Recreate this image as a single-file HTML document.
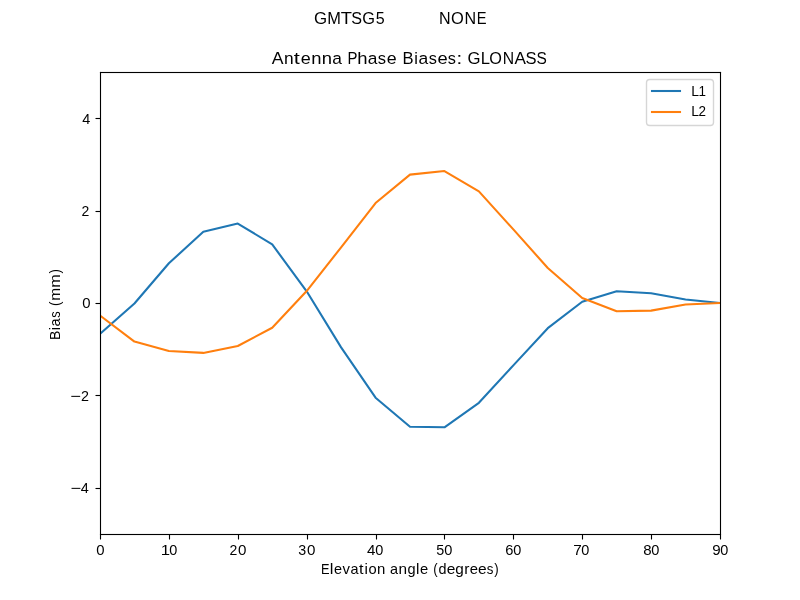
<!DOCTYPE html>
<html lang="en">
<head>
<meta charset="utf-8">
<title>Antenna Phase Biases: GLONASS</title>
<style>
html,body{margin:0;padding:0;background:#ffffff;}
body{width:800px;height:600px;overflow:hidden;}
svg{display:block;}
text{font-family:"Liberation Sans",sans-serif;fill:#000000;}
.sp{stroke:#000000;stroke-width:1.11;fill:none;}
.ln{fill:none;stroke-width:2.083;stroke-linejoin:round;stroke-linecap:square;}
</style>
</head>
<body>
<svg width="800" height="600" viewBox="0 0 800 600">
<rect x="0" y="0" width="800" height="600" fill="#ffffff"/>
<defs><clipPath id="axclip"><rect x="100" y="72" width="620" height="462"/></clipPath></defs>
<g clip-path="url(#axclip)">
<polyline class="ln" stroke="#1f77b4" points="100.00,333.95 134.44,303.46 168.89,263.27 203.33,231.85 237.78,223.54 272.22,244.42 306.67,291.31 341.11,347.35 375.56,397.71 410.00,426.82 444.44,427.28 478.89,402.79 513.33,365.37 547.78,328.18 582.22,301.71 616.67,291.22 651.11,293.30 685.56,299.49 720.00,303.00"/>
<polyline class="ln" stroke="#ff7f0e" points="100.00,315.47 134.44,341.58 168.89,351.05 203.33,352.90 237.78,345.97 272.22,327.72 306.67,291.08 341.11,247.33 375.56,203.07 410.00,174.66 444.44,171.05 478.89,191.33 513.33,229.40 547.78,267.98 582.22,297.92 616.67,311.32 651.11,310.62 685.56,304.48 720.00,303.00"/>
</g>
<g class="sp">
<line x1="100.5" y1="534.5" x2="100.5" y2="539.5"/>
<line x1="169.5" y1="534.5" x2="169.5" y2="539.5"/>
<line x1="238.5" y1="534.5" x2="238.5" y2="539.5"/>
<line x1="307.5" y1="534.5" x2="307.5" y2="539.5"/>
<line x1="376.5" y1="534.5" x2="376.5" y2="539.5"/>
<line x1="444.5" y1="534.5" x2="444.5" y2="539.5"/>
<line x1="513.5" y1="534.5" x2="513.5" y2="539.5"/>
<line x1="582.5" y1="534.5" x2="582.5" y2="539.5"/>
<line x1="651.5" y1="534.5" x2="651.5" y2="539.5"/>
<line x1="720.5" y1="534.5" x2="720.5" y2="539.5"/>
<line x1="95.5" y1="118.5" x2="100.5" y2="118.5"/>
<line x1="95.5" y1="211.5" x2="100.5" y2="211.5"/>
<line x1="95.5" y1="303.5" x2="100.5" y2="303.5"/>
<line x1="95.5" y1="395.5" x2="100.5" y2="395.5"/>
<line x1="95.5" y1="488.5" x2="100.5" y2="488.5"/>
</g>
<g fill="#000000">
<rect x="99.945" y="71.945" width="1.11" height="463.11"/>
<rect x="719.945" y="71.945" width="1.11" height="463.11"/>
<rect x="99.945" y="71.945" width="621.11" height="1.11"/>
<rect x="99.945" y="533.945" width="621.11" height="1.11"/>
</g>
<rect x="646.5" y="79.5" width="67" height="46" rx="3.2" ry="3.2" fill="#ffffff" fill-opacity="0.8" stroke="#cccccc" stroke-opacity="0.8" stroke-width="1.39"/>
<line class="ln" stroke="#1f77b4" x1="652" y1="91" x2="680" y2="91"/>
<line class="ln" stroke="#ff7f0e" x1="652" y1="112" x2="680" y2="112"/>
<g opacity="0.999" style="filter:grayscale(1)">
<text id="g_sup"><tspan id="sup1_0" x="314.00" y="24.00" font-size="17.40" textLength="13.12" lengthAdjust="spacingAndGlyphs">G</tspan><tspan id="sup1_1" x="327.22" y="24.00" font-size="17.40" textLength="13.67" lengthAdjust="spacingAndGlyphs">M</tspan><tspan id="sup1_2" x="340.88" y="24.00" font-size="17.40" textLength="11.21" lengthAdjust="spacingAndGlyphs">T</tspan><tspan id="sup1_3" x="351.33" y="24.00" font-size="17.40" textLength="10.78" lengthAdjust="spacingAndGlyphs">S</tspan><tspan id="sup1_4" x="362.22" y="24.00" font-size="17.40" textLength="12.74" lengthAdjust="spacingAndGlyphs">G</tspan><tspan id="sup1_5" x="375.70" y="24.00" font-size="17.40" textLength="8.93" lengthAdjust="spacingAndGlyphs">5</tspan> <tspan id="sup2_0" x="439.00" y="24.00" font-size="17.40" textLength="11.61" lengthAdjust="spacingAndGlyphs">N</tspan><tspan id="sup2_1" x="451.09" y="24.00" font-size="17.40" textLength="12.80" lengthAdjust="spacingAndGlyphs">O</tspan><tspan id="sup2_2" x="464.38" y="24.00" font-size="17.40" textLength="11.62" lengthAdjust="spacingAndGlyphs">N</tspan><tspan id="sup2_3" x="476.73" y="24.00" font-size="17.40" textLength="9.81" lengthAdjust="spacingAndGlyphs">E</tspan></text>
<text id="g_title"><tspan id="ti1_0" x="271.74" y="63.60" font-size="17.40" textLength="11.76" lengthAdjust="spacingAndGlyphs">A</tspan><tspan id="ti1_1" x="284.10" y="63.60" font-size="17.40" textLength="9.63" lengthAdjust="spacingAndGlyphs">n</tspan><tspan id="ti1_2" x="293.71" y="63.60" font-size="17.40" textLength="6.07" lengthAdjust="spacingAndGlyphs">t</tspan><tspan id="ti1_3" x="300.76" y="63.60" font-size="17.40" textLength="10.00" lengthAdjust="spacingAndGlyphs">e</tspan><tspan id="ti1_4" x="311.38" y="63.60" font-size="17.40" textLength="10.25" lengthAdjust="spacingAndGlyphs">n</tspan><tspan id="ti1_5" x="321.75" y="63.60" font-size="17.40" textLength="10.25" lengthAdjust="spacingAndGlyphs">n</tspan><tspan id="ti1_6" x="332.24" y="63.60" font-size="17.40" textLength="9.65" lengthAdjust="spacingAndGlyphs">a</tspan> <tspan id="ti2_0" x="347.40" y="63.60" font-size="17.40" textLength="9.97" lengthAdjust="spacingAndGlyphs">P</tspan><tspan id="ti2_1" x="357.35" y="63.60" font-size="17.40" textLength="10.27" lengthAdjust="spacingAndGlyphs">h</tspan><tspan id="ti2_2" x="367.85" y="63.60" font-size="17.40" textLength="9.64" lengthAdjust="spacingAndGlyphs">a</tspan><tspan id="ti2_3" x="377.86" y="63.60" font-size="17.40" textLength="8.28" lengthAdjust="spacingAndGlyphs">s</tspan><tspan id="ti2_4" x="386.88" y="63.60" font-size="17.40" textLength="9.90" lengthAdjust="spacingAndGlyphs">e</tspan> <tspan id="ti3_0" x="402.50" y="63.60" font-size="17.40" textLength="11.06" lengthAdjust="spacingAndGlyphs">B</tspan><tspan id="ti3_1" x="414.29" y="63.60" font-size="17.40" textLength="3.65" lengthAdjust="spacingAndGlyphs">i</tspan><tspan id="ti3_2" x="418.42" y="63.60" font-size="17.40" textLength="9.70" lengthAdjust="spacingAndGlyphs">a</tspan><tspan id="ti3_3" x="428.85" y="63.60" font-size="17.40" textLength="8.18" lengthAdjust="spacingAndGlyphs">s</tspan><tspan id="ti3_4" x="437.64" y="63.60" font-size="17.40" textLength="10.18" lengthAdjust="spacingAndGlyphs">e</tspan><tspan id="ti3_5" x="447.69" y="63.60" font-size="17.40" textLength="8.17" lengthAdjust="spacingAndGlyphs">s</tspan><tspan id="ti3_6" x="456.47" y="63.60" font-size="17.40" textLength="5.66" lengthAdjust="spacingAndGlyphs">:</tspan> <tspan id="ti4_0" x="467.50" y="63.60" font-size="17.40" textLength="13.02" lengthAdjust="spacingAndGlyphs">G</tspan><tspan id="ti4_1" x="480.63" y="63.60" font-size="17.40" textLength="9.23" lengthAdjust="spacingAndGlyphs">L</tspan><tspan id="ti4_2" x="489.34" y="63.60" font-size="17.40" textLength="12.66" lengthAdjust="spacingAndGlyphs">O</tspan><tspan id="ti4_3" x="502.73" y="63.60" font-size="17.40" textLength="11.36" lengthAdjust="spacingAndGlyphs">N</tspan><tspan id="ti4_4" x="514.45" y="63.60" font-size="17.40" textLength="11.44" lengthAdjust="spacingAndGlyphs">A</tspan><tspan id="ti4_5" x="525.50" y="63.60" font-size="17.40" textLength="11.06" lengthAdjust="spacingAndGlyphs">S</tspan><tspan id="ti4_6" x="536.54" y="63.60" font-size="17.40" textLength="10.33" lengthAdjust="spacingAndGlyphs">S</tspan></text>
<text id="g_xlabel"><tspan id="xl1_0" x="321.00" y="574.00" font-size="14.60" textLength="8.54" lengthAdjust="spacingAndGlyphs">E</tspan><tspan id="xl1_1" x="329.77" y="574.00" font-size="14.60" textLength="3.67" lengthAdjust="spacingAndGlyphs">l</tspan><tspan id="xl1_2" x="334.04" y="574.00" font-size="14.60" textLength="8.06" lengthAdjust="spacingAndGlyphs">e</tspan><tspan id="xl1_3" x="342.57" y="574.00" font-size="14.60" textLength="7.43" lengthAdjust="spacingAndGlyphs">v</tspan><tspan id="xl1_4" x="350.47" y="574.00" font-size="14.60" textLength="8.05" lengthAdjust="spacingAndGlyphs">a</tspan><tspan id="xl1_5" x="359.01" y="574.00" font-size="14.60" textLength="4.53" lengthAdjust="spacingAndGlyphs">t</tspan><tspan id="xl1_6" x="364.64" y="574.00" font-size="14.60" textLength="3.41" lengthAdjust="spacingAndGlyphs">i</tspan><tspan id="xl1_7" x="368.41" y="574.00" font-size="14.60" textLength="8.17" lengthAdjust="spacingAndGlyphs">o</tspan><tspan id="xl1_8" x="376.94" y="574.00" font-size="14.60" textLength="8.32" lengthAdjust="spacingAndGlyphs">n</tspan> <tspan id="xl2_0" x="390.00" y="574.00" font-size="14.60" textLength="8.05" lengthAdjust="spacingAndGlyphs">a</tspan><tspan id="xl2_1" x="398.55" y="574.00" font-size="14.60" textLength="8.55" lengthAdjust="spacingAndGlyphs">n</tspan><tspan id="xl2_2" x="407.60" y="574.00" font-size="14.60" textLength="8.09" lengthAdjust="spacingAndGlyphs">g</tspan><tspan id="xl2_3" x="415.91" y="574.00" font-size="14.60" textLength="3.40" lengthAdjust="spacingAndGlyphs">l</tspan><tspan id="xl2_4" x="419.92" y="574.00" font-size="14.60" textLength="8.21" lengthAdjust="spacingAndGlyphs">e</tspan> <tspan id="xl3_0" x="433.37" y="574.00" font-size="14.60" textLength="4.42" lengthAdjust="spacingAndGlyphs">(</tspan><tspan id="xl3_1" x="438.53" y="574.00" font-size="14.60" textLength="8.01" lengthAdjust="spacingAndGlyphs">d</tspan><tspan id="xl3_2" x="446.65" y="574.00" font-size="14.60" textLength="8.63" lengthAdjust="spacingAndGlyphs">e</tspan><tspan id="xl3_3" x="455.27" y="574.00" font-size="14.60" textLength="8.53" lengthAdjust="spacingAndGlyphs">g</tspan><tspan id="xl3_4" x="464.15" y="574.00" font-size="14.60" textLength="5.19" lengthAdjust="spacingAndGlyphs">r</tspan><tspan id="xl3_5" x="469.82" y="574.00" font-size="14.60" textLength="8.26" lengthAdjust="spacingAndGlyphs">e</tspan><tspan id="xl3_6" x="477.93" y="574.00" font-size="14.60" textLength="8.65" lengthAdjust="spacingAndGlyphs">e</tspan><tspan id="xl3_7" x="486.82" y="574.00" font-size="14.60" textLength="6.64" lengthAdjust="spacingAndGlyphs">s</tspan><tspan id="xl3_8" x="494.32" y="574.00" font-size="14.60" textLength="4.43" lengthAdjust="spacingAndGlyphs">)</tspan></text>
<text id="g_ylabel" transform="rotate(-90)"><tspan id="yl1_0" x="-340.00" y="59.90" font-size="14.60" textLength="9.35" lengthAdjust="spacingAndGlyphs">B</tspan><tspan id="yl1_1" x="-330.28" y="59.90" font-size="14.60" textLength="3.24" lengthAdjust="spacingAndGlyphs">i</tspan><tspan id="yl1_2" x="-326.45" y="59.90" font-size="14.60" textLength="8.08" lengthAdjust="spacingAndGlyphs">a</tspan><tspan id="yl1_3" x="-317.63" y="59.90" font-size="14.60" textLength="6.38" lengthAdjust="spacingAndGlyphs">s</tspan> <tspan id="yl2_0" x="-306.12" y="59.90" font-size="14.60" textLength="4.50" lengthAdjust="spacingAndGlyphs">(</tspan><tspan id="yl2_1" x="-300.77" y="59.90" font-size="14.60" textLength="12.91" lengthAdjust="spacingAndGlyphs">m</tspan><tspan id="yl2_2" x="-287.88" y="59.90" font-size="14.60" textLength="13.53" lengthAdjust="spacingAndGlyphs">m</tspan><tspan id="yl2_3" x="-273.62" y="59.90" font-size="14.60" textLength="4.39" lengthAdjust="spacingAndGlyphs">)</tspan></text>
<text id="g_lg1"><tspan id="lg1_0" x="691.25" y="96.00" font-size="14.60" textLength="7.75" lengthAdjust="spacingAndGlyphs">L</tspan><tspan id="lg1_1" x="698.62" y="96.00" font-size="14.60" textLength="7.50" lengthAdjust="spacingAndGlyphs">1</tspan></text>
<text id="g_lg2"><tspan id="lg2_0" x="691.25" y="116.00" font-size="14.60" textLength="7.75" lengthAdjust="spacingAndGlyphs">L</tspan><tspan id="lg2_1" x="698.62" y="116.00" font-size="14.60" textLength="7.50" lengthAdjust="spacingAndGlyphs">2</tspan></text>
<text id="g_xt0"><tspan id="xt0" x="96.35" y="555.00" font-size="14.60" textLength="8.30" lengthAdjust="spacingAndGlyphs">0</tspan></text>
<text id="g_xt1"><tspan id="xt1_0" x="160.85" y="555.00" font-size="14.60" textLength="9.30" lengthAdjust="spacingAndGlyphs">1</tspan><tspan id="xt1_1" x="169.27" y="555.00" font-size="14.60" textLength="8.05" lengthAdjust="spacingAndGlyphs">0</tspan></text>
<text id="g_xt2"><tspan id="xt2_0" x="229.50" y="555.00" font-size="14.60" textLength="7.80" lengthAdjust="spacingAndGlyphs">2</tspan><tspan id="xt2_1" x="237.92" y="555.00" font-size="14.60" textLength="8.43" lengthAdjust="spacingAndGlyphs">0</tspan></text>
<text id="g_xt3"><tspan id="xt3_0" x="298.15" y="555.00" font-size="14.60" textLength="7.94" lengthAdjust="spacingAndGlyphs">3</tspan><tspan id="xt3_1" x="307.07" y="555.00" font-size="14.60" textLength="8.43" lengthAdjust="spacingAndGlyphs">0</tspan></text>
<text id="g_xt4"><tspan id="xt4_0" x="367.05" y="555.00" font-size="14.60" textLength="8.43" lengthAdjust="spacingAndGlyphs">4</tspan><tspan id="xt4_1" x="375.34" y="555.00" font-size="14.60" textLength="8.07" lengthAdjust="spacingAndGlyphs">0</tspan></text>
<text id="g_xt5"><tspan id="xt5_0" x="436.35" y="555.00" font-size="14.60" textLength="7.99" lengthAdjust="spacingAndGlyphs">5</tspan><tspan id="xt5_1" x="444.33" y="555.00" font-size="14.60" textLength="8.11" lengthAdjust="spacingAndGlyphs">0</tspan></text>
<text id="g_xt6"><tspan id="xt6_0" x="505.25" y="555.00" font-size="14.60" textLength="8.18" lengthAdjust="spacingAndGlyphs">6</tspan><tspan id="xt6_1" x="513.17" y="555.00" font-size="14.60" textLength="8.05" lengthAdjust="spacingAndGlyphs">0</tspan></text>
<text id="g_xt7"><tspan id="xt7_0" x="573.15" y="555.00" font-size="14.60" textLength="8.55" lengthAdjust="spacingAndGlyphs">7</tspan><tspan id="xt7_1" x="581.32" y="555.00" font-size="14.60" textLength="8.06" lengthAdjust="spacingAndGlyphs">0</tspan></text>
<text id="g_xt8"><tspan id="xt8_0" x="643.30" y="555.00" font-size="14.60" textLength="8.37" lengthAdjust="spacingAndGlyphs">8</tspan><tspan id="xt8_1" x="651.16" y="555.00" font-size="14.60" textLength="8.12" lengthAdjust="spacingAndGlyphs">0</tspan></text>
<text id="g_xt9"><tspan id="xt9_0" x="712.20" y="555.00" font-size="14.60" textLength="8.42" lengthAdjust="spacingAndGlyphs">9</tspan><tspan id="xt9_1" x="720.37" y="555.00" font-size="14.60" textLength="8.05" lengthAdjust="spacingAndGlyphs">0</tspan></text>
<text id="g_yt4"><tspan id="yt4" x="82.25" y="123.50" font-size="14.60" textLength="8.05" lengthAdjust="spacingAndGlyphs">4</tspan></text>
<text id="g_yt2"><tspan id="yt2" x="81.50" y="215.90" font-size="14.60" textLength="7.80" lengthAdjust="spacingAndGlyphs">2</tspan></text>
<text id="g_yt0"><tspan id="yt0" x="82.25" y="308.30" font-size="14.60" textLength="8.30" lengthAdjust="spacingAndGlyphs">0</tspan></text>
<text id="g_yt-2"><tspan id="yt-2_0" x="70.15" y="400.70" font-size="14.60" textLength="10.68" lengthAdjust="spacingAndGlyphs">−</tspan><tspan id="yt-2_1" x="80.94" y="400.70" font-size="14.60" textLength="7.99" lengthAdjust="spacingAndGlyphs">2</tspan></text>
<text id="g_yt-4"><tspan id="yt-4_0" x="70.40" y="493.10" font-size="14.60" textLength="10.63" lengthAdjust="spacingAndGlyphs">−</tspan><tspan id="yt-4_1" x="80.63" y="493.10" font-size="14.60" textLength="8.04" lengthAdjust="spacingAndGlyphs">4</tspan></text>
</g>
</svg>
</body>
</html>
